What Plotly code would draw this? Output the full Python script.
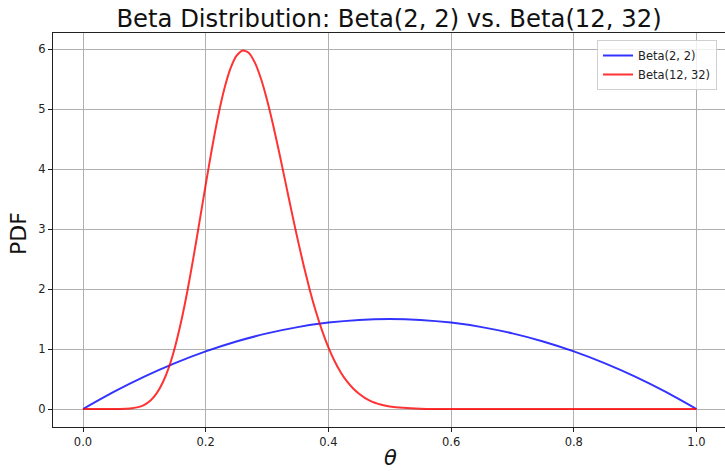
import plotly.graph_objects as go

# Beta(2, 2) curve
theta_a = [0.0, 0.05, 0.10, 0.15, 0.20, 0.25, 0.30, 0.35, 0.40, 0.45, 0.50,
           0.55, 0.60, 0.65, 0.70, 0.75, 0.80, 0.85, 0.90, 0.95, 1.0]
pdf_a = [0.0, 0.285, 0.54, 0.765, 0.96, 1.125, 1.26, 1.365, 1.44, 1.485, 1.5,
         1.485, 1.44, 1.365, 1.26, 1.125, 0.96, 0.765, 0.54, 0.285, 0.0]

# Beta(12, 32) curve
theta_b = [0.0, 0.02, 0.04, 0.06, 0.07, 0.08, 0.09, 0.10, 0.11, 0.12, 0.13,
           0.14, 0.15, 0.16, 0.17, 0.18, 0.19, 0.20, 0.21, 0.22, 0.23,
           0.24, 0.25, 0.26, 0.27, 0.28, 0.29, 0.30, 0.31, 0.32, 0.33,
           0.34, 0.35, 0.36, 0.37, 0.38, 0.39, 0.40, 0.41, 0.42, 0.43,
           0.44, 0.45, 0.46, 0.47, 0.48, 0.49, 0.50, 0.55, 0.60, 0.70,
           0.80, 0.90, 1.0]
pdf_b = [0.0, 0.0, 0.0, 0.001, 0.004, 0.012, 0.031, 0.070, 0.142, 0.260, 0.441,
         0.695, 1.034, 1.457, 1.959, 2.523, 3.126, 3.738, 4.330, 4.867, 5.320,
         5.664, 5.886, 5.976, 5.939, 5.777, 5.508, 5.151, 4.730, 4.266, 3.781,
         3.294, 2.823, 2.380, 1.973, 1.612, 1.297, 1.026, 0.799, 0.613, 0.463,
         0.345, 0.253, 0.182, 0.128, 0.090, 0.062, 0.042, 0.005, 0.0004, 0.0,
         0.0, 0.0, 0.0]

x_ticks = [0.0, 0.2, 0.4, 0.6, 0.8, 1.0]
x_tick_labels = ["0.0", "0.2", "0.4", "0.6", "0.8", "1.0"]
y_ticks = [0, 1, 2, 3, 4, 5, 6]

FONT = "DejaVu Sans"

fig = go.Figure()
fig.add_trace(go.Scatter(x=theta_a, y=pdf_a, mode="lines", name="Beta(2, 2)",
                         line=dict(color="rgba(0,0,255,0.8)", width=2, shape="spline", smoothing=0.8)))
fig.add_trace(go.Scatter(x=theta_b, y=pdf_b, mode="lines", name="Beta(12, 32)",
                         line=dict(color="rgba(255,0,0,0.8)", width=2, shape="spline", smoothing=0.6)))

W, H = 725, 471
L, R, T, B = 53, 0, 33, 44
PW = W - L - R
PH = H - T - B

fig.update_layout(
    width=W, height=H,
    margin=dict(l=L, r=R, t=T, b=B),
    paper_bgcolor="white", plot_bgcolor="white",
    font=dict(family=FONT, size=11.5, color="#222"),
    title=dict(text="Beta Distribution: Beta(2, 2) vs. Beta(12, 32)",
               font=dict(family=FONT, size=24.3, color="#111"),
               x=0.5, xref="paper", xanchor="center",
               y=1 - 18 / H, yref="container", yanchor="middle"),
    showlegend=True,
    legend=dict(x=(717 - L) / PW, y=(H - B - 40) / PH, xanchor="right", yanchor="top",
                bgcolor="rgba(255,255,255,0.8)", bordercolor="#d0d0d0", borderwidth=1,
                font=dict(family=FONT, size=11.5, color="#222"),
                itemwidth=30, tracegroupgap=0),
    xaxis=dict(range=[-0.0489, 1.0465], tickvals=x_ticks, ticktext=x_tick_labels,
               showgrid=True, gridcolor="#b0b0b0", gridwidth=1,
               zeroline=False, showline=True, linecolor="#222", linewidth=1, mirror=True,
               ticks="outside", ticklen=4, tickcolor="#222",
               tickfont=dict(family=FONT, size=11.5, color="#222")),
    yaxis=dict(range=[-0.3, 6.267], tickvals=y_ticks,
               showgrid=True, gridcolor="#b0b0b0", gridwidth=1,
               zeroline=False, showline=True, linecolor="#222", linewidth=1, mirror=False,
               ticks="outside", ticklen=4, tickcolor="#222",
               tickfont=dict(family=FONT, size=11.5, color="#222")),
    annotations=[
        dict(text="PDF", x=(18 - L) / PW, y=(H - B - 234) / PH, xref="paper", yref="paper",
             xanchor="center", yanchor="middle", showarrow=False, textangle=-90,
             font=dict(family=FONT, size=22, color="#111")),
        dict(text="<i>θ</i>", x=(390 - L) / PW, y=(H - B - 458) / PH, xref="paper", yref="paper",
             xanchor="center", yanchor="middle", showarrow=False,
             font=dict(family=FONT, size=21, color="#111")),
    ],
)

fig.write_html("out.html", config={"displayModeBar": False})

# remove the default page margin so the figure sits at the window's top-left corner
with open("out.html", "r", encoding="utf-8") as f:
    html = f.read()
html = html.replace("<head>", "<head><style>html,body{margin:0;padding:0;overflow:hidden;}</style>", 1)
with open("out.html", "w", encoding="utf-8") as f:
    f.write(html)
